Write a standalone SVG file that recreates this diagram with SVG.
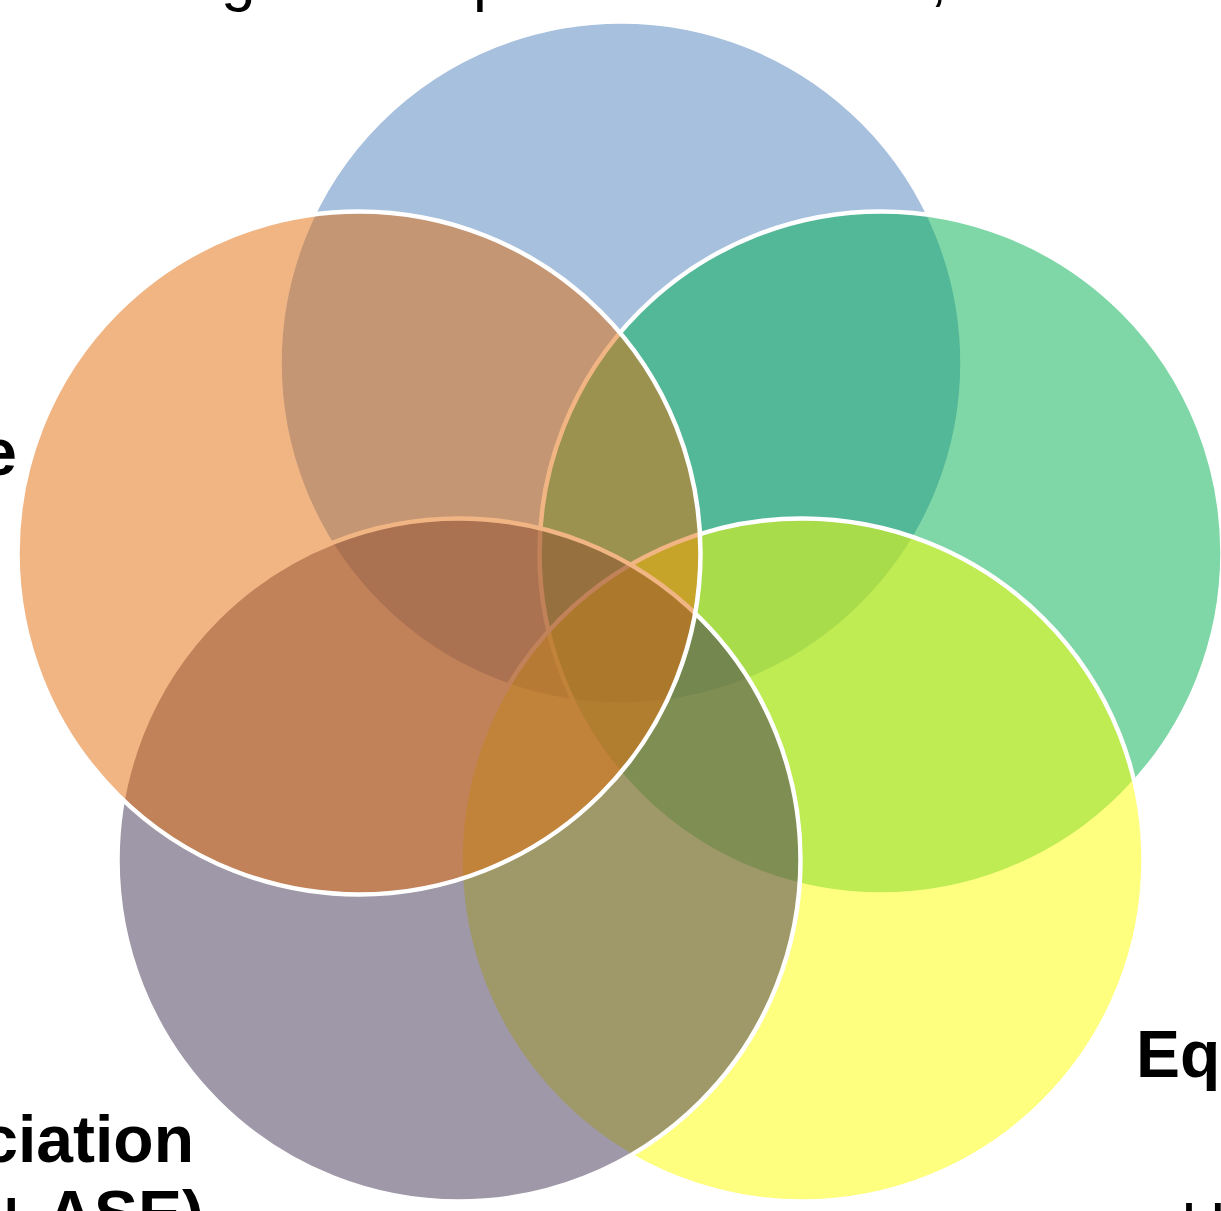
<svg xmlns="http://www.w3.org/2000/svg" width="1221" height="1211" viewBox="0 0 1221 1211">
<style>
.set{fill-opacity:0.5;stroke:#FFFFFF;stroke-width:4.5}
.lbl{font-family:"Liberation Sans",Arial,sans-serif;font-size:66px;font-weight:bold;fill:#000000}
.lblr{font-family:"Liberation Sans",Arial,sans-serif;font-size:62px;font-weight:normal;fill:#000000}
</style>
<rect width="1221" height="1211" fill="#FFFFFF"/>
<g id="set-blue"><circle class="set" cx="621" cy="363" r="341.5" fill="#4F81BD"/></g>
<g id="set-green"><circle class="set" cx="881" cy="553" r="341.5" fill="#00B050"/></g>
<g id="set-yellow"><circle class="set" cx="802" cy="860" r="341.5" fill="#FFFF00"/></g>
<g id="set-purple"><circle class="set" cx="459" cy="860" r="341.5" fill="#403151"/></g>
<g id="set-orange"><circle class="set" cx="359" cy="553" r="341.5" fill="#E46C0A"/></g>
<g id="labels">
<g id="label-top">
<text class="lblr" x="221" y="-1">g</text>
<text class="lblr" x="473" y="-1">p</text>
<text class="lblr" x="930" y="-1">,</text>
</g>
<g id="label-left"><text class="lbl" x="17" y="475" text-anchor="end">e</text></g>
<g id="label-bottom-left">
<text class="lbl" x="194" y="1162" text-anchor="end">ciation</text>
<text class="lbl" x="204" y="1237" text-anchor="end">+ ASE)</text>
</g>
<g id="label-bottom-right">
<text class="lbl" x="1136" y="1077">Eq</text>
<text class="lblr" x="1181" y="1245">H</text>
</g>
</g>
</svg>
